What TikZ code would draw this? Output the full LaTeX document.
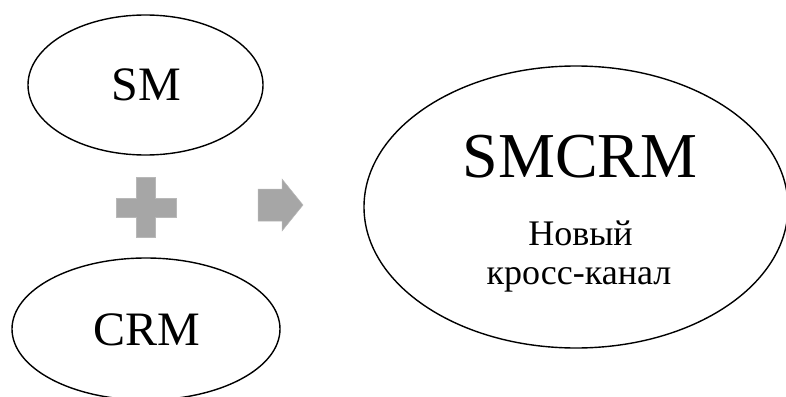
\documentclass[tikz,border=0pt]{standalone}
\usepackage{fontspec}
\setmainfont{Liberation Serif}
\usetikzlibrary{shapes.geometric}
\definecolor{shapegray}{HTML}{A6A6A6}
\tikzset{
  oval/.style={draw=black, line width=1.4pt, ellipse, inner sep=0pt},
  label48/.style={anchor=base, inner sep=0pt, font=\fontsize{48}{52}\selectfont},
  labelbig/.style={anchor=base, inner sep=0pt, font=\fontsize{64}{70}\selectfont},
  labelsmall/.style={anchor=base, inner sep=0pt, font=\fontsize{36}{40}\selectfont},
  grayshape/.style={fill=shapegray, draw=shapegray!80!white, line width=0.5pt}
}
\begin{document}
\begin{tikzpicture}[x=1pt,y=-1pt]
\useasboundingbox (0,0) rectangle (786,396);
% ellipses
\node[oval, minimum width=235pt, minimum height=140pt] (sm) at (145.5,85) {};
\node[oval, minimum width=268pt, minimum height=142pt] (crm) at (146,329) {};
\node[oval, minimum width=424pt, minimum height=282pt] (smcrm) at (576,207) {};
% texts
\node[label48] (smtext) at (146.5,100) {SM};
\node[label48] (crmtext) at (146.5,345) {CRM};
\node[labelbig] (smcrmtext) at (580,177) {SMCRM};
\node[labelsmall] (newtext) at (580.5,245) {Новый};
\node[labelsmall] (crosstext) at (579,284) {кросс-канал};
% plus sign
\fill[grayshape] (136,177) -- (155,177) -- (155,198) -- (176,198) -- (176,217)
  -- (155,217) -- (155,237) -- (136,237) -- (136,217) -- (116,217)
  -- (116,198) -- (136,198) -- cycle;
% arrow
\fill[grayshape] (258,189) -- (282,189) -- (282,179) -- (303,205) -- (282,231)
  -- (282,221) -- (258,221) -- cycle;
\end{tikzpicture}
\end{document}
